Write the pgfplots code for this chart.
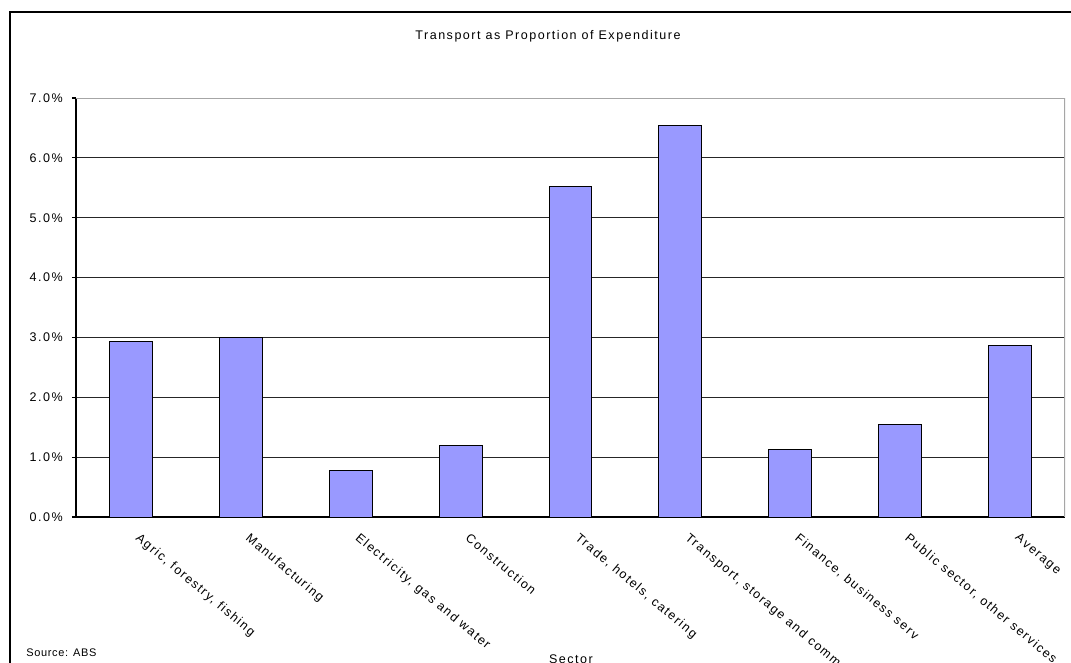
\documentclass[border=0pt]{standalone}
\usepackage{fontspec}
\setmainfont{Liberation Sans}
\newfontfamily\chartfont[LetterSpace=12]{Liberation Sans}
\newfontfamily\srcfont[LetterSpace=6]{Liberation Sans}
\usepackage{pgfplots}
\usepackage{pgfplotstable}
\pgfplotsset{compat=1.18}
\definecolor{barblue}{HTML}{9999FF}

% transport share of expenditure, per cent, by sector
\pgfplotstableread{
idx value
1 2.93
2 3.00
3 0.785
4 1.20
5 5.53
6 6.54
7 1.12
8 1.54
9 2.86
}\sectordata

\newcommand{\lblfont}{\chartfont\fontsize{9.4pt}{11pt}\selectfont}

\begin{document}
\begin{tikzpicture}[x=0.75pt,y=0.75pt]
\clip (0,0) rectangle (1071,662);
\fill[white] (0,0) rectangle (1071,662);
% chart area frame
\draw[line width=1.5pt] (9.5,-40) -- (9.5,650) -- (1120,650);
\begin{axis}[
  at={(57pt,108.75pt)}, anchor=south west,
  scale only axis, width=741.75pt, height=314.25pt,
  xmin=0.5, xmax=9.5, ymin=0, ymax=7,
  axis x line*=bottom, axis y line*=left,
  axis line style={black, line width=0.8pt},
  tick align=outside,
  major tick length=3pt,
  tick style={black, line width=0.8pt},
  ytick={0,...,7},
  ymajorgrids,
  grid style={black!85, line width=0.75pt},
  /pgf/number format/assume math mode=true,
  yticklabel={\pgfmathprintnumber[fixed,fixed zerofill,precision=1]{\tick}\%},
  tick label style={font=\lblfont},
  yticklabel style={anchor=east, inner sep=0pt, xshift=-6.75pt},
  xtick={1,...,9},
  xtick style={draw=none},
  xticklabels={{Agric, forestry, fishing},{Manufacturing},{Electricity, gas and water},{Construction},{Trade, hotels, catering},{Transport, storage and comms},{Finance, business serv},{Public sector, other services},{Average}},
  xticklabel style={xshift=7.5pt, yshift=-8.25pt, rotate=-40, anchor=north west, inner sep=0pt},
  extra x ticks={0.5,1.5,...,9.5},
  extra x tick labels={},
  extra x tick style={tick style={black, line width=0.8pt}},
]
\addplot[ybar, bar width=0.391, fill=barblue, draw=black, line width=0.75pt] table[x=idx, y=value] {\sectordata};
\draw[gray!70, line width=1pt] (rel axis cs:0,1) -- (rel axis cs:1,1) -- (rel axis cs:1,0);
\end{axis}
\node[font=\lblfont, anchor=base] at (548,622) {Transport as Proportion of Expenditure};
\node[font=\lblfont, anchor=base, inner sep=0pt] at (571,-1) {Sector};
\node[font=\srcfont\fontsize{8.25pt}{10pt}\selectfont, anchor=base west, inner sep=0pt] at (26,6) {Source: ABS};
\end{tikzpicture}
\end{document}
